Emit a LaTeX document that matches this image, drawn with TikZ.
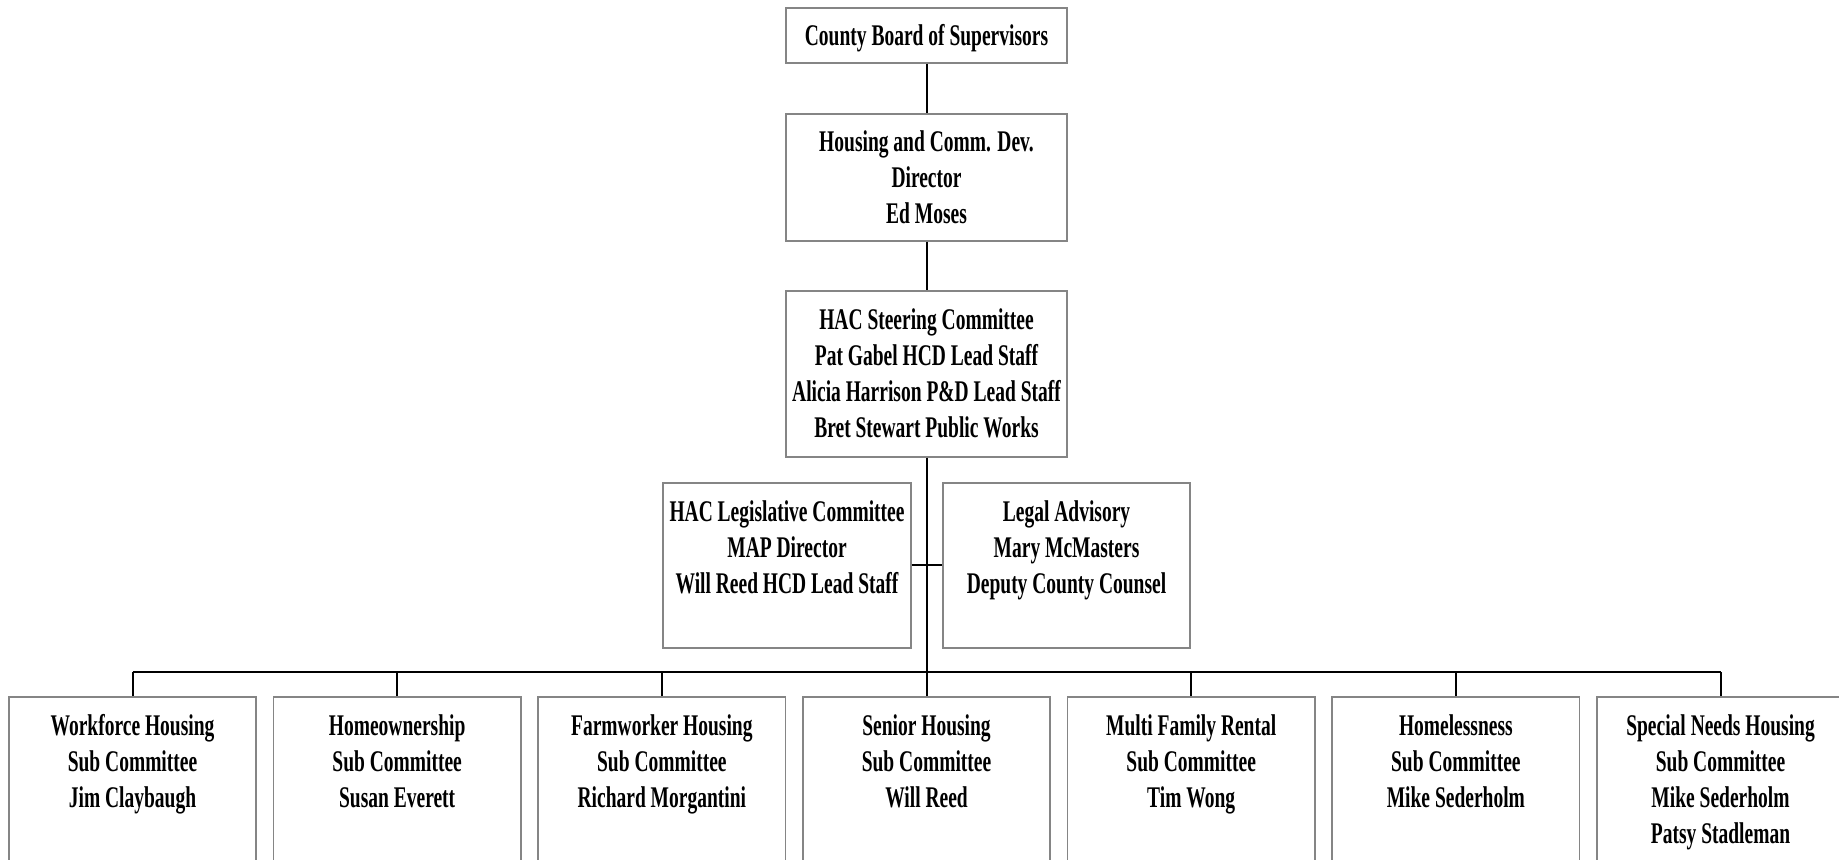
\documentclass[tikz,border=0pt]{standalone}
\usepackage{fontspec}
\newfontfamily\orgfont{Liberation Serif}[FakeStretch=0.65]
\usepackage{tikz}
\usetikzlibrary{calc,positioning}
\definecolor{Frame}{HTML}{858585}
\definecolor{Ink}{HTML}{000000}
\newcommand\toplines[1]{\begin{tabular}[t]{@{}c@{}}#1\end{tabular}}

\begin{document}
\begin{tikzpicture}[x=.5pt,y=-.5pt,
  box/.style={draw=Frame,line width=.8pt,fill=white,inner sep=0pt,align=center,anchor=north,
    font=\orgfont\bfseries\fontsize{15}{18}\selectfont,minimum width=123.75pt},
  headbox/.style={box,minimum width=140.5pt},
  sidebox/.style={box,text height=19.25pt,text depth=63.25pt},
  subbox/.style={box,text height=19.5pt,text depth=70.5pt},
  link/.style={draw=Ink,line width=1pt}]
\useasboundingbox (0,0) rectangle (1839,859);
\clip (0,0) rectangle (1839,859);
\node[headbox,text height=19pt,text depth=8.5pt] (board) at (926.5,7) {County Board of Supervisors};
\node[headbox,minimum height=63.5pt] (director) at (926.5,113) {Housing and Comm. Dev.\\Director\\Ed Moses};
\node[headbox,minimum height=83pt] (steering) at (926.5,290) {HAC Steering Committee\\Pat Gabel HCD Lead Staff\\Alicia Harrison P\&D Lead Staff\\Bret Stewart Public Works};
\node[sidebox] (legis) at (787,482) {\toplines{HAC Legislative Committee\\MAP Director\\Will Reed HCD Lead Staff}};
\node[sidebox] (legal) at (1066.5,482) {\toplines{Legal Advisory\\Mary McMasters\\Deputy County Counsel}};
% sub committees
\foreach \i/\t [count=\n from 0] in {
  sub1/{Workforce Housing\\Sub Committee\\Jim Claybaugh},
  sub2/{Homeownership\\Sub Committee\\Susan Everett},
  sub3/{Farmworker Housing\\Sub Committee\\Richard Morgantini},
  sub4/{Senior Housing\\Sub Committee\\Will Reed},
  sub5/{Multi Family Rental\\Sub Committee\\Tim Wong},
  sub6/{Homelessness\\Sub Committee\\Mike Sederholm},
  sub7/{Special Needs Housing\\Sub Committee\\Mike Sederholm\\Patsy Stadleman}}
  {\node[subbox] (\i) at (132.5+264.67*\n,696) {\toplines{\t}};}
% connectors
\coordinate (bus) at (926.5,672);
\draw[link] (board.south) -- (director.north);
\draw[link] (director.south) -- (steering.north);
\draw[link] (steering.south) -- (bus);
\draw[link] (legis.east) -- (legal.west);
\draw[link] (sub1.north |- bus) -- (sub7.north |- bus);
\foreach \i in {sub1,sub2,sub3,sub4,sub5,sub6,sub7}{\draw[link] (\i.north) -- (\i.north |- bus);}
\end{tikzpicture}
\end{document}
